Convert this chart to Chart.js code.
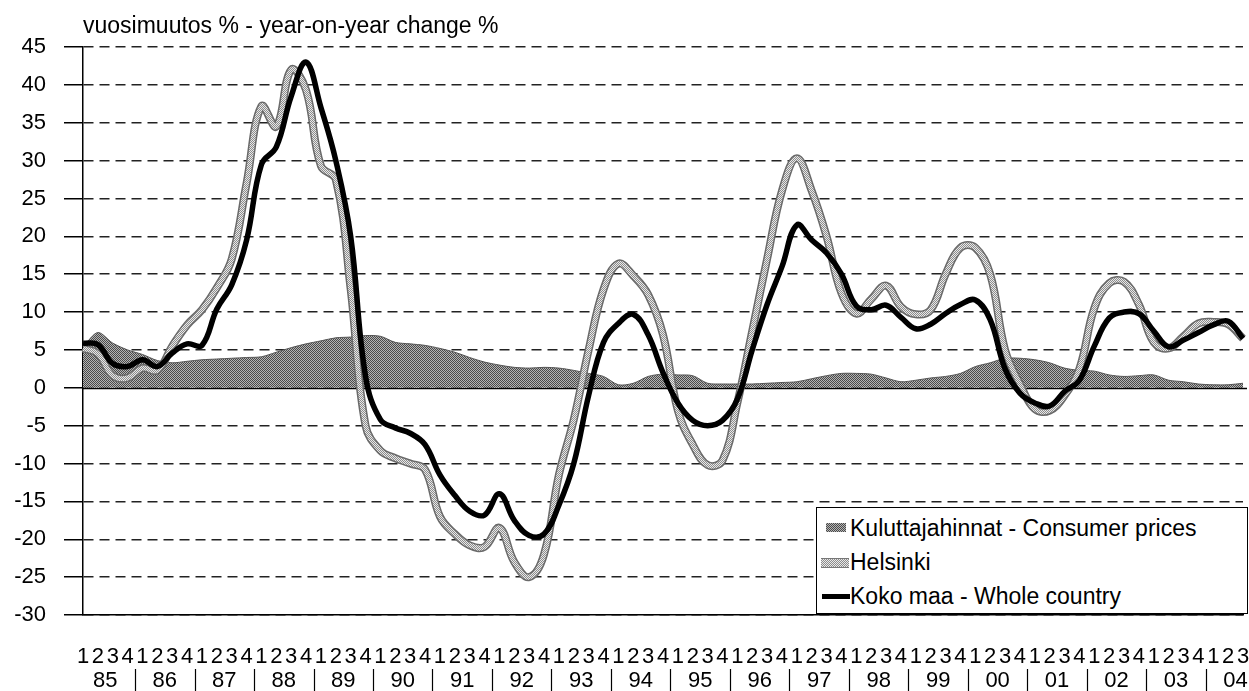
<!DOCTYPE html>
<html><head><meta charset="utf-8">
<script src="https://cdn.jsdelivr.net/npm/chart.js@4.4.1/dist/chart.umd.min.js"></script>
<style>
html,body{margin:0;padding:0;background:#fff;}
#wrap{position:relative;width:1249px;height:691px;overflow:hidden;}
canvas{position:absolute;left:0;top:0;}
#legend{position:absolute;left:816px;top:507px;width:432px;height:107px;border:1.5px solid #000;background:#fff;font:23px "Liberation Sans",Arial,sans-serif;color:#000;box-sizing:border-box;}
.row{position:absolute;left:0;height:34px;line-height:34px;white-space:nowrap;width:100%;}
.sw{position:absolute;}
.txt{position:absolute;left:33px;top:0;}
</style></head>
<body><div id="wrap"><canvas id="c" width="1249" height="691"></canvas><div id="legend"></div></div>
<script>
const quarterLabels = [
 "1","2","3","4","1","2","3","4","1","2","3","4","1","2","3","4","1","2","3","4",
 "1","2","3","4","1","2","3","4","1","2","3","4","1","2","3","4","1","2","3","4",
 "1","2","3","4","1","2","3","4","1","2","3","4","1","2","3","4","1","2","3","4",
 "1","2","3","4","1","2","3","4","1","2","3","4","1","2","3","4","1","2","3"];
const yearLabels = ["85","86","87","88","89","90","91","92","93","94","95","96","97","98","99","00","01","02","03","04"];
const seriesNames = ["Kuluttajahinnat - Consumer prices","Helsinki","Koko maa - Whole country"];
const titleText = "vuosimuutos % - year-on-year change %";

const consumerPrices = [
 5.4,7.3,5.9,5.0, 4.4,3.6,3.3,3.5, 3.7,3.8,3.9,4.0, 4.1,4.7,5.3,5.8, 6.2,6.6,6.7,6.9,
 6.8,6.0,5.8,5.6, 5.2,4.7,4.0,3.4, 3.0,2.7,2.6,2.7, 2.6,2.3,1.9,1.5, 0.4,0.6,1.5,1.8,
 1.7,1.6,0.6,0.5, 0.5,0.5,0.6,0.7, 0.8,1.2,1.6,1.9, 1.9,1.8,1.3,0.8, 1.0,1.3,1.5,1.9,
 2.8,3.3,3.9,3.9, 3.7,3.3,2.6,2.3, 2.2,1.7,1.5,1.6, 1.7,1.0,0.8,0.5, 0.4,0.4,0.6];
const helsinki = [
 5.2,4.5,1.6,1.3, 2.6,2.3,5.5,8.3, 10.3,13.2,17.0,27.0, 37.2,34.5,42.0,39.3, 29.3,27.5,13.0,-5.0,
 -8.3,-9.3,-10.0,-10.8, -17.0,-19.3,-20.8,-21.0, -18.5,-23.0,-25.0,-22.0, -11.5,-4.2,5.0,13.0, 16.4,14.8,12.3,7.0,
 -3.0,-7.5,-10.2,-9.6, -2.0,7.5,17.0,26.0, 30.3,26.0,20.0,12.5, 9.8,11.7,13.5,10.7, 9.7,10.3,15.0,18.5,
 18.5,15.0,5.0,0.5, -2.8,-3.0,-1.0,2.5, 10.5,13.8,14.0,11.0, 6.0,5.2,6.8,8.5, 8.7,8.4,6.5];
const wholeCountry = [
 5.9,5.7,3.2,2.8, 3.7,2.8,4.6,5.8, 5.6,10.4,13.6,19.5, 29.5,31.8,38.5,43.0, 37.0,30.0,20.0,1.5,
 -4.2,-5.3,-6.0,-7.5, -11.5,-14.2,-16.3,-16.8, -14.0,-17.5,-19.5,-19.3, -15.5,-10.0,-1.0,6.0, 8.5,9.7,7.0,2.0,
 -2.0,-4.3,-5.0,-4.3, -1.5,5.0,11.0,16.0, 21.5,19.5,17.8,15.0, 10.8,10.3,10.9,9.3, 7.8,8.4,9.8,11.0,
 11.6,9.0,2.5,-0.7, -2.0,-2.4,-0.5,1.0, 5.5,9.2,10.0,9.8, 7.5,5.4,6.3,7.3, 8.3,8.8,6.5];
const yTicks = {min:-30, max:45, step:5};

const FONT = '"Liberation Sans", Arial, sans-serif';

function checker(c1, c2){
  const p = document.createElement('canvas'); p.width = 2; p.height = 2;
  const x = p.getContext('2d');
  x.fillStyle = c2; x.fillRect(0,0,2,2);
  x.fillStyle = c1; x.fillRect(0,0,1,1); x.fillRect(1,1,1,1);
  return x.createPattern(p,'repeat');
}

const decor = {
  id:'decor',
  beforeDatasetsDraw(chart){
    const {ctx, chartArea, scales} = chart;
    const y0 = Math.round(scales.y.getPixelForValue(0)) + 0.5;
    ctx.save();
    ctx.strokeStyle = '#000'; ctx.lineWidth = 1.5;
    ctx.beginPath(); ctx.moveTo(chartArea.left, y0); ctx.lineTo(chartArea.right + 4, y0); ctx.stroke();
    ctx.restore();
  },
  afterDraw(chart){
    const {ctx, chartArea, scales} = chart;
    const x = scales.x;
    ctx.save();
    ctx.fillStyle = '#000';
    ctx.font = '23px ' + FONT;
    ctx.textAlign = 'left'; ctx.textBaseline = 'alphabetic';
    ctx.fillText(titleText, chartArea.left, 33);
    ctx.font = '22px ' + FONT;
    ctx.textAlign = 'center'; ctx.textBaseline = 'middle';
    yearLabels.forEach((yl, k) => {
      const a = k*4 + 1, b = k*4 + 2;
      const px = (x.getPixelForValue(a) + x.getPixelForValue(Math.min(b, quarterLabels.length-1))) / 2;
      ctx.fillText(yl, px, 681);
      if (k > 0) {
        const sx = Math.round((x.getPixelForValue(k*4 - 1) + x.getPixelForValue(k*4)) / 2) + 0.5;
        ctx.strokeStyle = '#000'; ctx.lineWidth = 1.2;
        ctx.beginPath(); ctx.moveTo(sx, 669); ctx.lineTo(sx, 691); ctx.stroke();
      }
    });
    ctx.restore();
  }
};

const ctx = document.getElementById('c').getContext('2d');
const fillPat = checker('#4a4a4a', '#b4b4b4');
const helPat = checker('#8c8c8c', '#e8e8e8');

new Chart(ctx, {
  type: 'line',
  data: {
    labels: quarterLabels,
    datasets: [
      { label: seriesNames[0], data: consumerPrices, fill: 'origin', backgroundColor: fillPat,
        borderColor: '#555', borderWidth: 1, pointRadius: 0, tension: 0.3, order: 4 },
      { label: seriesNames[1] + ' outline', data: helsinki, fill: false, borderColor: '#6a6a6a',
        borderWidth: 8, pointRadius: 0, tension: 0.4, order: 3 },
      { label: seriesNames[1], data: helsinki, fill: false, borderColor: helPat,
        borderWidth: 5, pointRadius: 0, tension: 0.4, order: 2 },
      { label: seriesNames[2], data: wholeCountry, fill: false, borderColor: '#000',
        borderWidth: 5.5, pointRadius: 0, tension: 0.4, order: 1 }
    ]
  },
  options: {
    responsive: false, animation: false,
    layout: { padding: { top: 47, right: 6, left: 0, bottom: 0 } },
    plugins: { legend: { display: false }, tooltip: { enabled: false }, title: { display: false } },
    scales: {
      x: {
        type: 'category', offset: false,
        grid: { display: false, drawTicks: false },
        border: { display: true, color: '#000', width: 1.5 },
        ticks: { autoSkip: false, maxRotation: 0, minRotation: 0, padding: 29, color: '#000',
                 font: { family: FONT, size: 22 } },
        afterFit(s){ s.height = 76; s.paddingLeft = 0; s.paddingRight = 0; }
      },
      y: {
        min: yTicks.min, max: yTicks.max,
        ticks: { stepSize: yTicks.step, color: '#000', padding: 18, font: { family: FONT, size: 22 } },
        grid: { color: '#222', lineWidth: 1.5, tickLength: 19, tickColor: '#000', tickWidth: 1.5 },
        border: { display: true, color: '#000', width: 1.5, dash: [10, 6] },
        afterFit(s){ s.width = 83; s.paddingTop = 0; s.paddingBottom = 0; }
      }
    }
  },
  plugins: [decor]
});

// HTML legend
const lg = document.getElementById('legend');
const swatches = [
  'left:9px;width:20px;height:9px;top:12px;background:repeating-conic-gradient(#4a4a4a 0 25%,#b4b4b4 0 50%) 0 0/2px 2px;',
  'left:4px;width:28px;height:8px;top:13px;background:repeating-conic-gradient(#8c8c8c 0 25%,#e8e8e8 0 50%) 0 0/2px 2px;border-top:1px solid #777;border-bottom:1px solid #777;',
  'left:5px;width:28px;height:5px;top:15px;background:#000;'
];
seriesNames.forEach((n, i) => {
  const r = document.createElement('div'); r.className = 'row'; r.style.top = (3 + i*34) + 'px';
  const s = document.createElement('div'); s.className = 'sw'; s.style.cssText = swatches[i];
  const t = document.createElement('div'); t.className = 'txt'; t.textContent = n;
  r.appendChild(s); r.appendChild(t); lg.appendChild(r);
});
</script>
</body></html>
